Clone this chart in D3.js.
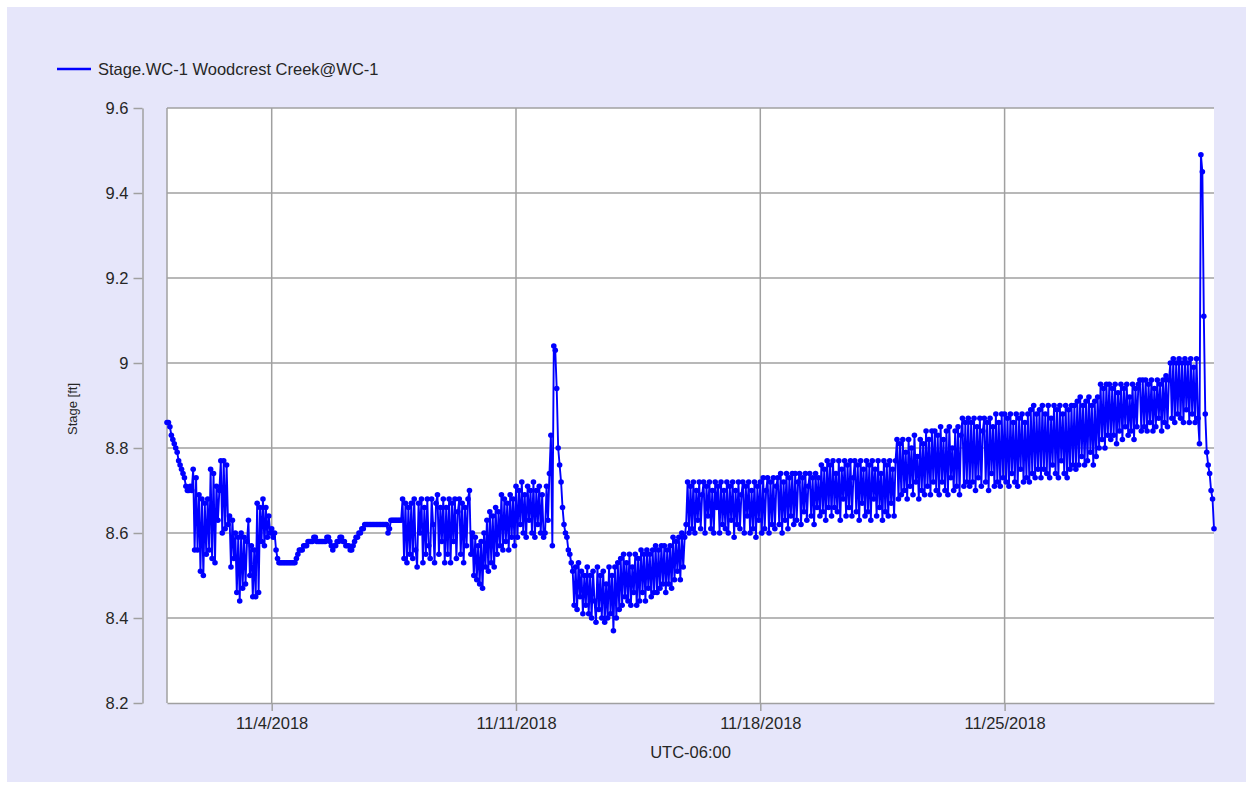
<!DOCTYPE html>
<html>
<head>
<meta charset="utf-8">
<script src="https://cdn.jsdelivr.net/npm/d3@7"></script>
<style>
  html, body { margin: 0; padding: 0; background: #fff; }
  svg text { font-family: "Liberation Sans", Arial, sans-serif; fill: #262626; }
</style>
</head>
<body>
<div id="chart"></div>
<script>
const seriesName = "Stage.WC-1 Woodcrest Creek@WC-1";
const yTitle = "Stage [ft]";
const xTitle = "UTC-06:00";
const startTime = "2018-11-01T00:00:00Z";
const endTime = "2018-12-01T00:00:00Z";
const stepHours = 1;
const xTickDates = ["2018-11-04", "2018-11-11", "2018-11-18", "2018-11-25"];
const yTicks = [8.2, 8.4, 8.6, 8.8, 9.0, 9.2, 9.4, 9.6];

// hourly readings, two rows per day (00h-11h, 12h-23h)
const stageNov1to7 = [
  8.86, 8.86, 8.85, 8.83, 8.82, 8.81, 8.80, 8.79, 8.77, 8.76, 8.75, 8.74,
  8.73, 8.71, 8.70, 8.70, 8.71, 8.70, 8.75, 8.56, 8.73, 8.56, 8.69, 8.51,
  8.68, 8.50, 8.67, 8.55, 8.68, 8.56, 8.75, 8.54, 8.74, 8.53, 8.71, 8.63,
  8.70, 8.77, 8.60, 8.77, 8.61, 8.76, 8.62, 8.64, 8.52, 8.63, 8.54, 8.60,
  8.46, 8.59, 8.44, 8.60, 8.47, 8.59, 8.48, 8.58, 8.63, 8.50, 8.57, 8.45,
  8.56, 8.45, 8.67, 8.46, 8.66, 8.58, 8.68, 8.57, 8.66, 8.59, 8.64, 8.60,
  8.61, 8.59, 8.60, 8.56, 8.54, 8.53, 8.53, 8.53, 8.53, 8.53, 8.53, 8.53,
  8.53, 8.53, 8.53, 8.53, 8.53, 8.54, 8.55, 8.56, 8.56, 8.56, 8.57, 8.57,
  8.57, 8.58, 8.58, 8.58, 8.58, 8.59, 8.59, 8.58, 8.58, 8.58, 8.58, 8.58,
  8.58, 8.58, 8.59, 8.59, 8.58, 8.57, 8.56, 8.57, 8.57, 8.58, 8.58, 8.59,
  8.59, 8.58, 8.58, 8.57, 8.57, 8.57, 8.56, 8.56, 8.57, 8.58, 8.59, 8.59,
  8.60, 8.60, 8.61, 8.61, 8.62, 8.62, 8.62, 8.62, 8.62, 8.62, 8.62, 8.62,
  8.62, 8.62, 8.62, 8.62, 8.62, 8.62, 8.62, 8.62, 8.60, 8.61, 8.63, 8.63,
  8.63, 8.63, 8.63, 8.63, 8.63, 8.63, 8.68, 8.54, 8.67, 8.53, 8.66, 8.55
];
const stageNov8to14 = [
  8.67, 8.54, 8.68, 8.56, 8.52, 8.67, 8.60, 8.68, 8.53, 8.66, 8.55, 8.68,
  8.57, 8.54, 8.68, 8.62, 8.53, 8.67, 8.69, 8.55, 8.66, 8.58, 8.68, 8.53,
  8.66, 8.55, 8.68, 8.53, 8.67, 8.58, 8.68, 8.54, 8.65, 8.68, 8.55, 8.67,
  8.53, 8.66, 8.57, 8.68, 8.70, 8.55, 8.60, 8.50, 8.59, 8.49, 8.57, 8.48,
  8.58, 8.47, 8.60, 8.52, 8.63, 8.51, 8.65, 8.53, 8.64, 8.52, 8.66, 8.55,
  8.65, 8.57, 8.69, 8.56, 8.68, 8.58, 8.67, 8.56, 8.69, 8.59, 8.68, 8.57,
  8.71, 8.59, 8.70, 8.62, 8.72, 8.60, 8.69, 8.59, 8.71, 8.63, 8.70, 8.60,
  8.72, 8.59, 8.70, 8.62, 8.71, 8.60, 8.69, 8.59, 8.60, 8.71, 8.63, 8.74,
  8.83, 8.57, 9.04, 9.03, 8.94, 8.80, 8.76, 8.72, 8.66, 8.62, 8.60, 8.59,
  8.56, 8.55, 8.53, 8.51, 8.43, 8.52, 8.42, 8.53, 8.45, 8.51, 8.41, 8.50,
  8.43, 8.52, 8.41, 8.50, 8.40, 8.51, 8.44, 8.39, 8.52, 8.42, 8.50, 8.40,
  8.51, 8.39, 8.48, 8.40, 8.52, 8.41, 8.50, 8.37, 8.52, 8.40, 8.53, 8.42,
  8.54, 8.43, 8.55, 8.45, 8.53, 8.44, 8.55, 8.43, 8.52, 8.46, 8.55, 8.43,
  8.54, 8.44, 8.56, 8.46, 8.55, 8.44, 8.56, 8.47, 8.55, 8.45, 8.56, 8.46
];
const stageNov15to21 = [
  8.57, 8.46, 8.56, 8.47, 8.57, 8.48, 8.57, 8.46, 8.56, 8.48, 8.57, 8.47,
  8.59, 8.49, 8.58, 8.51, 8.59, 8.49, 8.60, 8.52, 8.59, 8.62, 8.72, 8.60,
  8.71, 8.61, 8.72, 8.60, 8.70, 8.63, 8.72, 8.61, 8.69, 8.72, 8.60, 8.71,
  8.64, 8.72, 8.61, 8.70, 8.60, 8.72, 8.66, 8.71, 8.60, 8.72, 8.62, 8.70,
  8.61, 8.72, 8.60, 8.71, 8.63, 8.72, 8.59, 8.70, 8.62, 8.72, 8.61, 8.69,
  8.72, 8.60, 8.71, 8.64, 8.72, 8.60, 8.70, 8.61, 8.72, 8.59, 8.71, 8.63,
  8.72, 8.60, 8.73, 8.61, 8.70, 8.73, 8.60, 8.72, 8.62, 8.73, 8.61, 8.71,
  8.73, 8.62, 8.74, 8.60, 8.72, 8.63, 8.74, 8.61, 8.73, 8.64, 8.74, 8.62,
  8.74, 8.63, 8.72, 8.74, 8.62, 8.73, 8.65, 8.74, 8.63, 8.71, 8.74, 8.64,
  8.73, 8.62, 8.74, 8.66, 8.73, 8.64, 8.76, 8.65, 8.75, 8.63, 8.77, 8.66,
  8.76, 8.64, 8.77, 8.66, 8.74, 8.65, 8.77, 8.63, 8.75, 8.68, 8.77, 8.64,
  8.76, 8.66, 8.77, 8.64, 8.73, 8.77, 8.65, 8.76, 8.63, 8.77, 8.67, 8.75,
  8.64, 8.77, 8.65, 8.76, 8.63, 8.77, 8.68, 8.75, 8.64, 8.77, 8.66, 8.74,
  8.63, 8.77, 8.65, 8.76, 8.64, 8.77, 8.67, 8.75, 8.64, 8.77, 8.82, 8.68
];
const stageNov22to30 = [
  8.81, 8.69, 8.82, 8.70, 8.79, 8.68, 8.82, 8.71, 8.80, 8.69, 8.83, 8.72,
  8.78, 8.68, 8.82, 8.70, 8.81, 8.69, 8.84, 8.71, 8.82, 8.69, 8.84, 8.72,
  8.84, 8.70, 8.83, 8.69, 8.85, 8.72, 8.82, 8.70, 8.84, 8.69, 8.85, 8.73,
  8.80, 8.70, 8.84, 8.71, 8.85, 8.69, 8.83, 8.87, 8.71, 8.86, 8.72, 8.87,
  8.71, 8.86, 8.72, 8.87, 8.70, 8.85, 8.73, 8.87, 8.71, 8.84, 8.87, 8.72,
  8.86, 8.70, 8.87, 8.74, 8.85, 8.71, 8.88, 8.72, 8.86, 8.71, 8.88, 8.73,
  8.88, 8.72, 8.87, 8.71, 8.88, 8.74, 8.86, 8.72, 8.88, 8.71, 8.87, 8.75,
  8.88, 8.72, 8.86, 8.73, 8.88, 8.72, 8.89, 8.74, 8.90, 8.73, 8.88, 8.75,
  8.89, 8.73, 8.90, 8.75, 8.88, 8.74, 8.90, 8.73, 8.87, 8.76, 8.90, 8.74,
  8.89, 8.73, 8.90, 8.77, 8.88, 8.74, 8.90, 8.73, 8.89, 8.75, 8.90, 8.76,
  8.90, 8.75, 8.91, 8.76, 8.92, 8.78, 8.90, 8.76, 8.91, 8.77, 8.92, 8.79,
  8.90, 8.76, 8.91, 8.78, 8.92, 8.80, 8.95, 8.82, 8.94, 8.80, 8.95, 8.83,
  8.95, 8.82, 8.94, 8.83, 8.95, 8.81, 8.93, 8.84, 8.95, 8.82, 8.94, 8.85,
  8.95, 8.83, 8.92, 8.84, 8.95, 8.82, 8.94, 8.85, 8.95, 8.96, 8.84, 8.96,
  8.85, 8.96, 8.84, 8.95, 8.86, 8.96, 8.84, 8.94, 8.85, 8.96, 8.87, 8.95,
  8.84, 8.96, 8.86, 8.97, 8.85, 8.96, 9.00, 8.87, 9.01, 8.86, 9.00, 8.88,
  9.01, 8.87, 9.00, 8.86, 9.01, 8.89, 9.00, 8.86, 9.01, 8.88, 8.99, 8.86,
  9.01, 8.87, 8.81, 9.49, 9.45, 9.11, 8.88, 8.79, 8.76, 8.74, 8.70, 8.68,
  8.61
];

function StageChart(params) {
  const attrs = Object.assign(
    {
      container: "#chart",
      width: 1251,
      height: 789,
      frame: { x: 7, y: 7, width: 1239, height: 775 },
      plot: { left: 167, right: 1214, top: 108, bottom: 703 },
      yAxisX: 142.5,
      background: "#e6e6fa",
      gridColor: "#a0a0a0",
      lineColor: "#0000ff",
      fontSize: 16.5,
    },
    params || {}
  );

  let svg, data, xScale, yScale;

  function main() {
    transformData();
    setScales();
    drawContainers();
    drawGrid();
    drawAxes();
    drawSeries();
    drawLegend();
  }

  function transformData() {
    const t0 = new Date(startTime).getTime();
    const values = [].concat(stageNov1to7, stageNov8to14, stageNov15to21, stageNov22to30);
    data = values.map((v, i) => ({ t: new Date(t0 + i * stepHours * 3600e3), v }));
  }

  function setScales() {
    xScale = d3.scaleUtc([new Date(startTime), new Date(endTime)], [attrs.plot.left, attrs.plot.right]);
    yScale = d3.scaleLinear([d3.min(yTicks), d3.max(yTicks)], [attrs.plot.bottom, attrs.plot.top]);
  }

  function drawContainers() {
    svg = d3.select(attrs.container)
      .append("svg")
      .attr("width", attrs.width)
      .attr("height", attrs.height);

    svg.append("rect")
      .attr("x", attrs.frame.x)
      .attr("y", attrs.frame.y)
      .attr("width", attrs.frame.width)
      .attr("height", attrs.frame.height)
      .attr("fill", attrs.background);

    svg.append("rect")
      .attr("x", attrs.plot.left)
      .attr("y", attrs.plot.top)
      .attr("width", attrs.plot.right - attrs.plot.left)
      .attr("height", attrs.plot.bottom - attrs.plot.top)
      .attr("fill", "#fff");
  }

  function drawGrid() {
    const grid = svg.append("g").attr("class", "grid")
      .attr("stroke", attrs.gridColor)
      .attr("stroke-width", 1.5);

    grid.selectAll(".h-line")
      .data(yTicks.slice(1))
      .join("line")
      .attr("class", "h-line")
      .attr("x1", attrs.plot.left)
      .attr("x2", attrs.plot.right)
      .attr("y1", (d) => yScale(d))
      .attr("y2", (d) => yScale(d));

    grid.selectAll(".v-line")
      .data(xTickDates.map((d) => new Date(d + "T00:00:00Z")))
      .join("line")
      .attr("class", "v-line")
      .attr("x1", (d) => xScale(d))
      .attr("x2", (d) => xScale(d))
      .attr("y1", attrs.plot.top)
      .attr("y2", attrs.plot.bottom);

    grid.append("line")
      .attr("x1", attrs.plot.left)
      .attr("x2", attrs.plot.left)
      .attr("y1", attrs.plot.top)
      .attr("y2", attrs.plot.bottom);
  }

  function drawAxes() {
    const yAxis = d3.axisLeft(yScale)
      .tickValues(yTicks)
      .tickSize(9)
      .tickSizeOuter(0)
      .tickPadding(5)
      .tickFormat((d) => String(+d.toFixed(1)));

    const xAxis = d3.axisBottom(xScale)
      .tickValues(xTickDates.map((d) => new Date(d + "T00:00:00Z")))
      .tickSize(8)
      .tickSizeOuter(0)
      .tickPadding(6)
      .tickFormat(d3.utcFormat("%-m/%-d/%Y"));

    [
      svg.append("g").attr("transform", `translate(${attrs.yAxisX},0)`).call(yAxis),
      svg.append("g").attr("transform", `translate(0,${attrs.plot.bottom})`).call(xAxis),
    ].forEach((g) => {
      g.attr("font-size", null).attr("font-family", null);
      g.select(".domain").attr("stroke", attrs.gridColor).attr("stroke-width", 1.5);
      g.selectAll(".tick line").attr("stroke", attrs.gridColor).attr("stroke-width", 1.5);
      g.selectAll(".tick text").style("font-size", attrs.fontSize + "px").attr("fill", "#262626");
    });

    svg.append("text")
      .attr("x", (attrs.plot.left + attrs.plot.right) / 2)
      .attr("y", 758)
      .attr("text-anchor", "middle")
      .style("font-size", attrs.fontSize + "px")
      .text(xTitle);

    svg.append("text")
      .attr("transform", "translate(77,409) rotate(-90)")
      .attr("text-anchor", "middle")
      .style("font-size", "13px")
      .text(yTitle);
  }

  function drawSeries() {
    const line = d3.line()
      .x((d) => xScale(d.t))
      .y((d) => yScale(d.v));

    const g = svg.append("g").attr("class", "series");

    g.append("path")
      .datum(data)
      .attr("d", line)
      .attr("fill", "none")
      .attr("stroke", attrs.lineColor)
      .attr("stroke-width", 1.9)
      .attr("stroke-linejoin", "round");

    g.selectAll(".point")
      .data(data)
      .join("circle")
      .attr("class", "point")
      .attr("cx", (d) => xScale(d.t))
      .attr("cy", (d) => yScale(d.v))
      .attr("r", 2.8)
      .attr("fill", attrs.lineColor);
  }

  function drawLegend() {
    const g = svg.append("g").attr("class", "legend");
    g.append("line")
      .attr("x1", 57)
      .attr("x2", 91)
      .attr("y1", 69)
      .attr("y2", 69)
      .attr("stroke", attrs.lineColor)
      .attr("stroke-width", 2.5);
    g.append("text")
      .attr("x", 98)
      .attr("y", 75)
      .style("font-size", attrs.fontSize + "px")
      .text(seriesName);
  }

  return main;
}

StageChart()();
</script>
</body>
</html>
